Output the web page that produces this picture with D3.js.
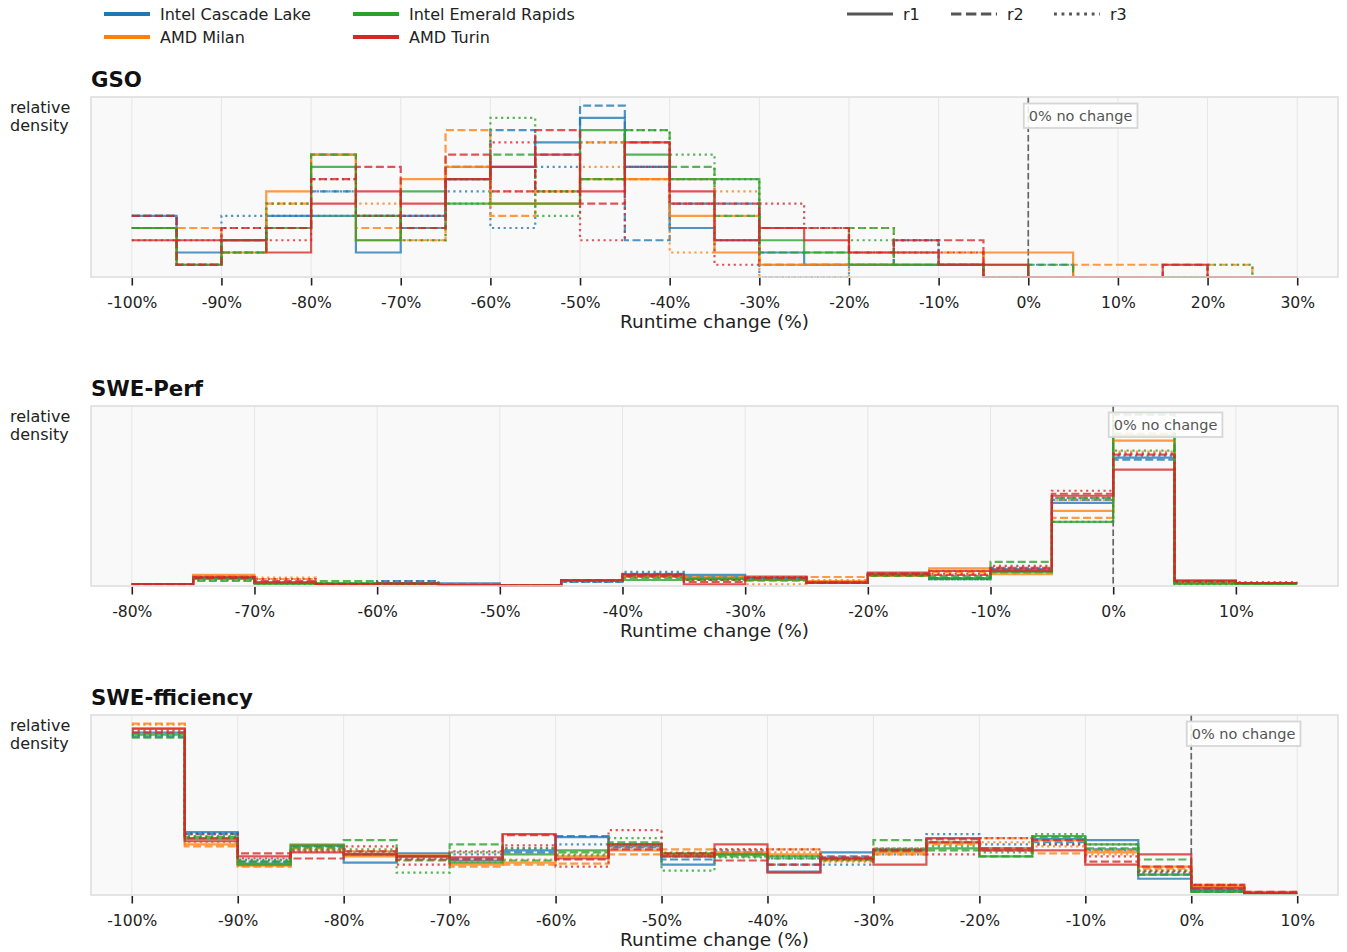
<!DOCTYPE html>
<html>
<head>
<meta charset="utf-8">
<script src="https://cdn.jsdelivr.net/npm/d3@7"></script>
<style>
  body { margin: 0; background: #fff; }
  svg { font-family: "DejaVu Sans", sans-serif; }
</style>
</head>
<body>
<svg id="chart" width="1347" height="952"></svg>
<script>
// ---- categories ----
const machines = ["Intel Cascade Lake", "AMD Milan", "Intel Emerald Rapids", "AMD Turin"];
const machineColors = ["#1f77b4", "#ff7f0e", "#2ca02c", "#d62728"];
const runs = ["r1", "r2", "r3"];

// ---- GSO: counts per 5% bin, edges -100 .. 30 ----
const gsoEdges = [-100,-95,-90,-85,-80,-75,-70,-65,-60,-55,-50,-45,-40,-35,-30,-25,-20,-15,-10,-5,0,5,10,15,20,25,30];
const gsoTicks = [-100,-90,-80,-70,-60,-50,-40,-30,-20,-10,0,10,20,30];
const gsoCascade = [
  [5,2,3,5,5,2,5,8,9,11,13,9,4,3,2,1,1,1,1,0,0,0,0,0,0,0],
  [5,1,3,4,7,5,4,9,12,10,14,3,6,6,1,1,1,3,1,0,1,0,0,0,0,0],
  [5,1,5,5,7,5,5,7,4,9,11,9,8,3,0,0,1,3,1,0,0,0,0,0,0,0]
];
const gsoMilan = [
  [4,1,2,7,10,3,8,9,6,6,8,8,5,2,1,1,1,1,1,2,2,0,0,0,0,0],
  [4,4,2,6,10,4,3,12,5,7,11,8,8,5,1,1,1,2,2,0,0,1,1,1,1,0],
  [4,1,2,6,10,6,3,9,7,7,9,8,2,7,0,0,4,2,2,0,0,0,0,0,0,0]
];
const gsoEmerald = [
  [4,1,3,4,9,3,7,6,6,6,12,10,8,8,3,2,1,1,1,1,0,0,0,0,0,0],
  [4,1,2,4,10,5,4,8,10,7,8,12,9,5,2,2,4,1,1,0,1,0,0,0,0,0],
  [4,1,2,6,5,5,3,6,13,5,8,12,10,8,4,4,3,2,1,0,0,0,0,0,1,0]
];
const gsoTurin = [
  [3,3,3,2,6,7,6,8,9,10,7,11,7,3,4,3,2,2,1,1,0,0,0,1,0,0],
  [5,1,4,4,8,9,4,10,7,12,6,11,6,6,4,4,2,3,3,0,0,0,0,1,0,0],
  [3,3,4,3,8,5,5,8,11,7,3,9,6,1,6,4,2,3,2,0,0,0,0,0,0,0]
];

// ---- SWE-Perf: relative density per 5% bin, edges -80 .. 15 ----
const perfEdges = [-80,-75,-70,-65,-60,-55,-50,-45,-40,-35,-30,-25,-20,-15,-10,-5,0,5,10,15];
const perfTicks = [-80,-70,-60,-50,-40,-30,-20,-10,0,10];
const perfCascade = [
  [2,8,3,2,3,2.7,0.5,5,11,11,8,4,11,7,16,83,128,4,3],
  [2,8,3,2,5,1.5,0.7,4,12,9,7,3,12,8,16.7,86,126,5,3],
  [2,9,4,2,5,1,0.5,4,14,8,8,3,10,6.7,18,88,130,3,4]
];
const perfMilan = [
  [2,11,4,2,2,1,0.7,6,10,8,6,5,10,17.7,11.7,75,145,4,2],
  [2,10,7,2,2,1,0.5,5,9,9,5,9,11,14,13,68,152,3,3],
  [2,10,8.5,2,2,1,0.7,5,10,7,1.7,6,12,15,15,86,134,4,2]
];
const perfEmerald = [
  [2,7,2,3,2,1,0.5,5,6,7.3,6,3,11,8,14,64,150,2,2],
  [1.5,5,3,5,3,1,0.5,5,8,6,7,4,10,10,24,88,171,3,2],
  [2,6,2,3,2,1,0.5,5,9,7,8,3,12,6.7,16,64,135,1.7,2]
];
const perfTurin = [
  [2,9,3.5,2,2.5,1,0.7,6,11.7,1.7,9.3,3.3,13.3,15,15,90,116,5.7,3],
  [2,8,5,2,2.5,1,0.7,6,10,4,8,3,12,11,18,92,131,5,3],
  [2,9,7,2,2,1,0.5,5,11,6,9,4,11,12,20,95,132,4,3]
];

// ---- SWE-fficiency: relative density per 5% bin, edges -100 .. 10 ----
const effEdges = [-100,-95,-90,-85,-80,-75,-70,-65,-60,-55,-50,-45,-40,-35,-30,-25,-20,-15,-10,-5,0,5,10];
const effTicks = [-100,-90,-80,-70,-60,-50,-40,-30,-20,-10,0,10];
const effCascade = [
  [160,62,31,49,32,41,34,44,57,48,30,40,23,42,45,52,46,55,54,16,5,2],
  [156,60,33,48,40,38,36,42,58,47,35,42,30,38,43,55,44,52,45,20,6,2],
  [158,61,35,45,42,36,40,46,50,50,38,44,36,30,40,60,50,50,44,22,4,1]
];
const effMilan = [
  [164,50,29,50,38,39,30,32,38,44,40,42,40,36,42,51,45,54,42,28,8,2],
  [169,48,28,46,43,38,28,30,31,40,45,40,45,34,40,50,56,41,44,26,10,3],
  [168,52,30,44,40,37,33,35,40,48,42,45,42,33,46,53,52,48,40,24,9,2]
];
const effEmerald = [
  [158,55,30,49,40,38,32,40,44,50,41,40,38,36,44,46,38,58,50,20,3,1],
  [155,57,33,47,54,34,50,34,42,52,38,38,36,35,54,44,38,57,46,35,3,1],
  [157,58,34,45,45,22,42,46,39,56,24,37,38,34,46,48,42,60,50,24,4,1]
];
const effTurin = [
  [164,53,38,42,40,38,37,60,36,50,38,50,22,36,30,56,44,44,30,40,7,2],
  [160,56,41,36,43,35,35,59,35,45,41,34,30,37,44,52,46,54,33,28,10,3],
  [162,60,36,43,48,30,43,49,28,64,40,45,45,35,45,40,56,50,38,23,10,2]
];

// ---- panel layout ----
const plotLeft = 91, plotRight = 1338, plotHeight = 180;
const panels = [
  { title: "GSO", top: 97, edges: gsoEdges, ticks: gsoTicks,
    series: [gsoCascade, gsoMilan, gsoEmerald, gsoTurin] },
  { title: "SWE-Perf", top: 406, edges: perfEdges, ticks: perfTicks,
    series: [perfCascade, perfMilan, perfEmerald, perfTurin] },
  { title: "SWE-fficiency", top: 715, edges: effEdges, ticks: effTicks,
    series: [effCascade, effMilan, effEmerald, effTurin] }
];

const dashes = { r1: null, r2: "8,3.5", r3: "2.2,3.6" };
const lineWidth = 2.2;
const lineAlpha = 0.78;

const svg = d3.select("#chart");

// ---- legends ----
const legend = svg.append("g");
const legendItems = [
  { label: machines[0], color: machineColors[0], x: 104, y: 14 },
  { label: machines[1], color: machineColors[1], x: 104, y: 37 },
  { label: machines[2], color: machineColors[2], x: 353, y: 14 },
  { label: machines[3], color: machineColors[3], x: 353, y: 37 }
];
legendItems.forEach(d => {
  legend.append("line").attr("x1", d.x).attr("x2", d.x + 46)
    .attr("y1", d.y).attr("y2", d.y)
    .attr("stroke", d.color).attr("stroke-width", 4);
  legend.append("text").attr("x", d.x + 56).attr("y", d.y + 5.8)
    .attr("font-size", 16).attr("fill", "#222").text(d.label);
});
const runLegendX = [847, 951, 1054];
runs.forEach((r, i) => {
  const x = runLegendX[i];
  legend.append("line").attr("x1", x).attr("x2", x + 46)
    .attr("y1", 14).attr("y2", 14)
    .attr("stroke", "#555").attr("stroke-width", 3)
    .attr("stroke-dasharray", dashes[r] ? dashes[r].split(",").map(v => v * 1.3).join(",") : null);
  legend.append("text").attr("x", x + 56).attr("y", 19.8)
    .attr("font-size", 16).attr("fill", "#222").text(r);
});

// ---- panels ----
panels.forEach(p => {
  const lo = p.edges[0], hi = p.edges[p.edges.length - 1];
  const pad = (hi - lo) * 0.035;
  const x = d3.scaleLinear().domain([lo - pad, hi + pad]).range([plotLeft, plotRight]);
  const yMax = d3.max(p.series.flat(2));
  const y = d3.scaleLinear().domain([0, yMax * 1.05]).range([p.top + plotHeight, p.top]);

  const g = svg.append("g");

  // plot background
  g.append("rect").attr("x", plotLeft).attr("y", p.top)
    .attr("width", plotRight - plotLeft).attr("height", plotHeight)
    .attr("fill", "#f9f9f9");

  // vertical grid
  g.selectAll(".grid").data(p.ticks).join("line")
    .attr("x1", d => x(d)).attr("x2", d => x(d))
    .attr("y1", p.top).attr("y2", p.top + plotHeight)
    .attr("stroke", "#e6e6e6").attr("stroke-width", 1);

  // zero reference line
  g.append("line").attr("x1", x(0)).attr("x2", x(0))
    .attr("y1", p.top).attr("y2", p.top + plotHeight)
    .attr("stroke", "#666").attr("stroke-width", 1.7)
    .attr("stroke-dasharray", "6.5,3");

  // step outlines (stairs without end drops)
  const stepLine = d3.line().x(d => x(d[0])).y(d => y(d[1]));
  p.series.forEach((machineRuns, mi) => {
    machineRuns.forEach((vals, ri) => {
      const pts = [];
      vals.forEach((v, i) => {
        pts.push([p.edges[i], v]);
        pts.push([p.edges[i + 1], v]);
      });
      g.append("path").attr("d", stepLine(pts))
        .attr("fill", "none")
        .attr("stroke", machineColors[mi])
        .attr("stroke-opacity", lineAlpha)
        .attr("stroke-width", lineWidth)
        .attr("stroke-dasharray", dashes[runs[ri]]);
    });
  });

  // frame
  g.append("rect").attr("x", plotLeft).attr("y", p.top)
    .attr("width", plotRight - plotLeft).attr("height", plotHeight)
    .attr("fill", "none").attr("stroke", "#dcdcdc").attr("stroke-width", 1.5);

  // "0% no change" label
  const lbl = g.append("g");
  const txt = lbl.append("text").attr("x", x(0) + 0.5).attr("y", p.top + 23.5)
    .attr("font-size", 14.5).attr("fill", "#555").text("0% no change");
  const bb = txt.node().getBBox();
  lbl.insert("rect", "text")
    .attr("x", bb.x - 5).attr("y", p.top + 6.5)
    .attr("width", bb.width + 10).attr("height", 24.5)
    .attr("fill", "#fff").attr("fill-opacity", 0.85)
    .attr("stroke", "#d6d6d6").attr("stroke-width", 1.8);

  // x axis
  const axis = d3.axisBottom(x).tickValues(p.ticks)
    .tickFormat(d => d + "%").tickSize(7.5).tickPadding(11);
  const ax = g.append("g").attr("transform", `translate(0,${p.top + plotHeight + 1})`).call(axis);
  ax.select(".domain").remove();
  ax.selectAll(".tick line").attr("stroke", "#222").attr("stroke-width", 1.6);
  ax.selectAll(".tick text").attr("font-size", 15.6).attr("fill", "#222")
    .attr("font-family", "DejaVu Sans, sans-serif");

  g.append("text").attr("x", (plotLeft + plotRight) / 2).attr("y", p.top + plotHeight + 50.5)
    .attr("text-anchor", "middle").attr("font-size", 18.5).attr("fill", "#222")
    .text("Runtime change (%)");

  // title
  g.append("text").attr("x", 91).attr("y", p.top - 10)
    .attr("font-size", 21.3).attr("font-weight", "bold").attr("fill", "#111")
    .text(p.title);

  // y label
  const yl = g.append("text").attr("font-size", 16).attr("fill", "#222");
  yl.append("tspan").attr("x", 10).attr("y", p.top + 15.5).text("relative");
  yl.append("tspan").attr("x", 10).attr("y", p.top + 33.5).text("density");
});
</script>
</body>
</html>
